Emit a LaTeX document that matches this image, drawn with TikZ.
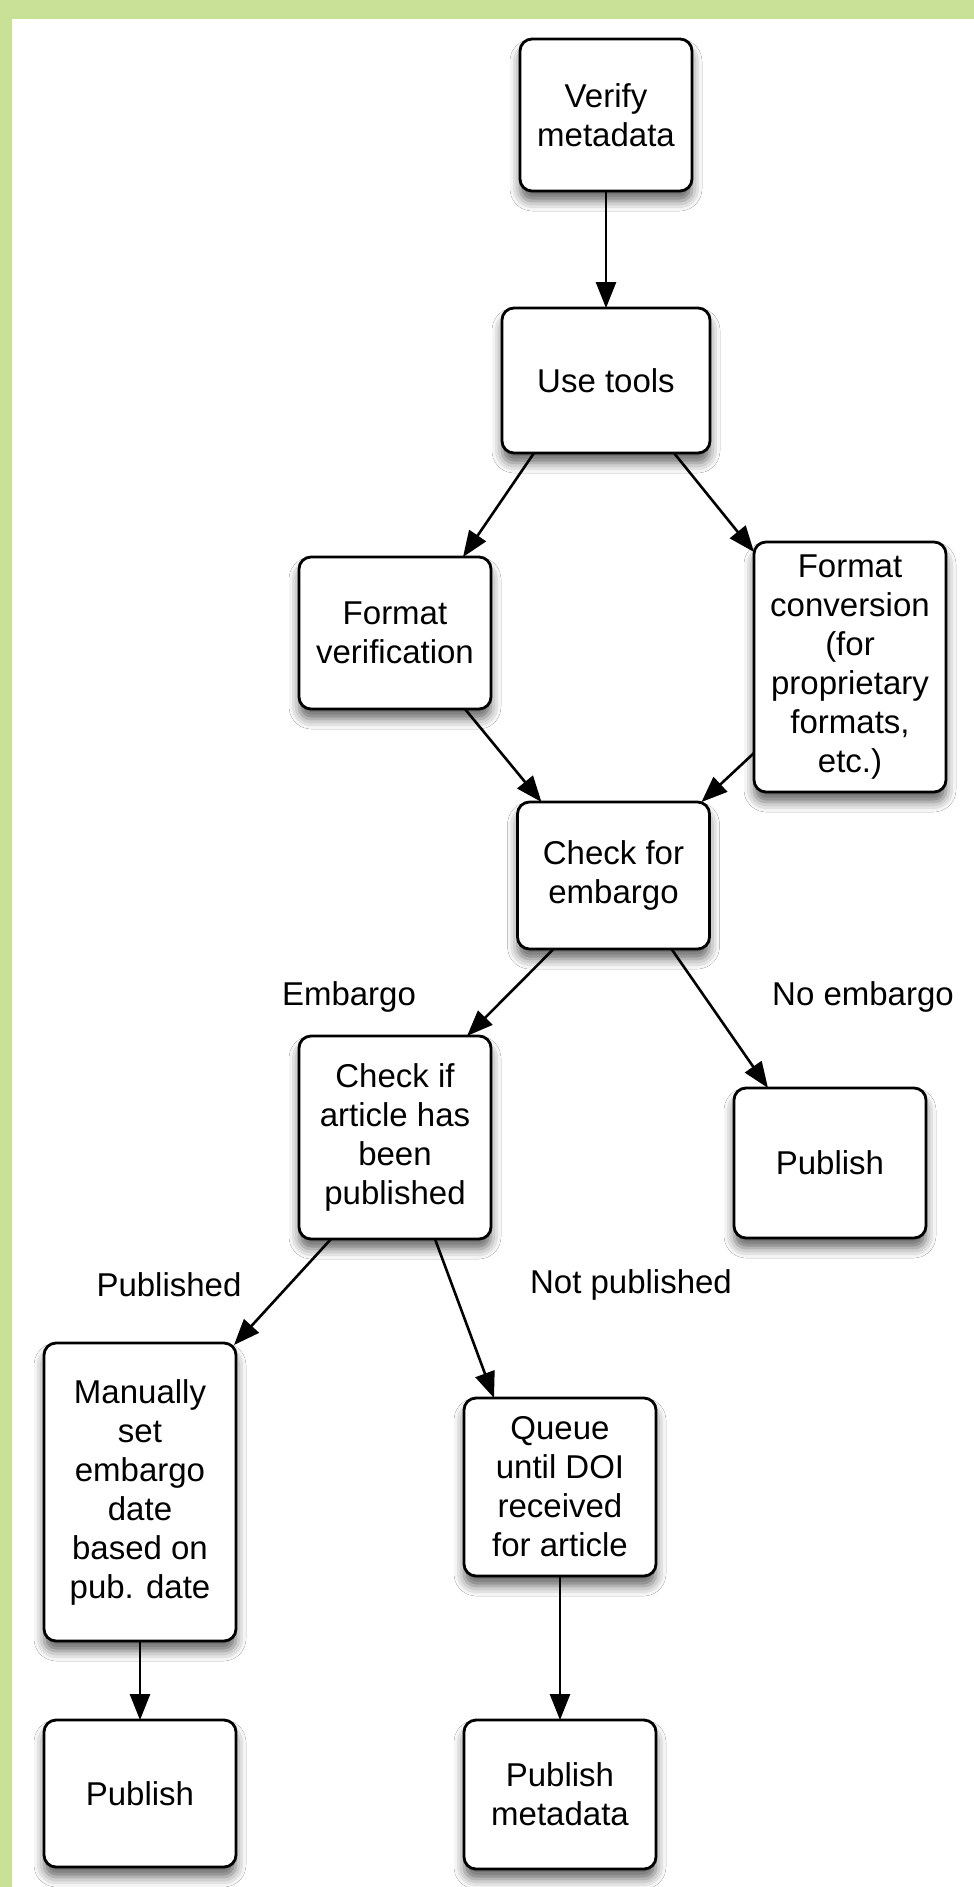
\documentclass[tikz,border=0pt]{standalone}
\usepackage{fontspec}
\setmainfont{Liberation Sans}
\usepackage{xcolor}
\usepackage{tikz}
\usetikzlibrary{positioning, arrows.meta, shadows.blur}

\definecolor{bandgreen}{RGB}{200,225,150}

\begin{document}
\begin{tikzpicture}[
    box/.style={draw, rectangle, rounded corners=6pt, line width=1.4pt, fill=white, align=center,
        minimum width=96pt, minimum height=75pt, inner sep=2pt, outer sep=0pt,
        font=\fontsize{16.5pt}{19.5pt}\selectfont,
        blur shadow={shadow xshift=0pt, shadow yshift=-5pt, shadow blur radius=5pt, shadow opacity=60}},
    lbl/.style={font=\fontsize{16.5pt}{19.5pt}\selectfont},
    arrow/.style={-{Triangle[length=13pt, width=10pt]}, line width=1.3pt}]
    % Background
    \useasboundingbox (0,0) rectangle (487pt,-943.5pt);
    \fill[bandgreen] (0,0) rectangle (487pt,-943.5pt);
    \fill[white] (6pt,-9.5pt) rectangle (487pt,-943.5pt);

    % Nodes
    \node[box, minimum width=86pt, minimum height=76pt] (verify) at (303pt,-57.5pt) {Verify\\metadata};
    \node[box, minimum width=104pt, minimum height=72.5pt, below=58.5pt of verify] (tools) {Use tools};
    \node[box, minimum height=76pt, below=52pt of tools, xshift=-105.5pt] (fmtver) {Format\\verification};
    \node[box, minimum height=125pt, below=44.5pt of tools, xshift=122pt] (fmtconv) {Format\\conversion\\(for\\proprietary\\formats,\\etc.)};
    \node[box, minimum height=73.5pt, below=46.5pt of fmtver, xshift=109.25pt] (embargo) {Check for\\embargo};
    \node[box, minimum height=101.5pt, below=163.5pt of fmtver] (checkpub) {Check if\\article has\\been\\published};
    \node[box, below=69.5pt of embargo, xshift=108.25pt] (pubright) {Publish};
    \node[box, minimum height=149pt, below=52pt of checkpub, xshift=-127.5pt] (manual) {Manually\\set\\embargo\\date\\based on\\pub. date};
    \node[box, minimum height=89pt, below=79.5pt of checkpub, xshift=82.5pt] (queue) {Queue\\until DOI\\received\\for article};
    \node[box, minimum height=73.5pt, below=39.5pt of manual] (publeft) {Publish};
    \node[box, minimum height=74.5pt, below=72pt of queue] (pubmeta) {Publish\\metadata};

    % Labels
    \node[lbl] (embargolbl) at (174.5pt,-498.5pt) {Embargo};
    \node[lbl] (noembargolbl) at (431.5pt,-498.5pt) {No embargo};
    \node[lbl] (publbl) at (84.5pt,-642.5pt) {Published};
    \node[lbl] (notpublbl) at (315.5pt,-642.5pt) {Not published};

    % Connections
    \draw[arrow] (verify) -- (tools);
    \draw[arrow] ([xshift=-36pt]tools.south) -- ([xshift=34pt]fmtver.north);
    \draw[arrow] ([xshift=34pt]tools.south) -- ([yshift=-5pt]fmtconv.north west);
    \draw[arrow] ([xshift=35pt]fmtver.south) -- ([xshift=-36pt]embargo.north);
    \draw[arrow] ([yshift=-43pt]fmtconv.west) -- ([xshift=44pt]embargo.north);
    \draw[arrow] ([xshift=-30pt]embargo.south) -- ([xshift=36pt]checkpub.north);
    \draw[arrow] ([xshift=29pt]embargo.south) -- ([xshift=-31pt]pubright.north);
    \draw[arrow] ([xshift=-32pt]checkpub.south) -- ([xshift=-1pt,yshift=-1pt]manual.north east);
    \draw[arrow] ([xshift=20pt]checkpub.south) -- ([xshift=-33pt]queue.north);
    \draw[arrow] (manual) -- (publeft);
    \draw[arrow] (queue) -- (pubmeta);
\end{tikzpicture}
\end{document}
